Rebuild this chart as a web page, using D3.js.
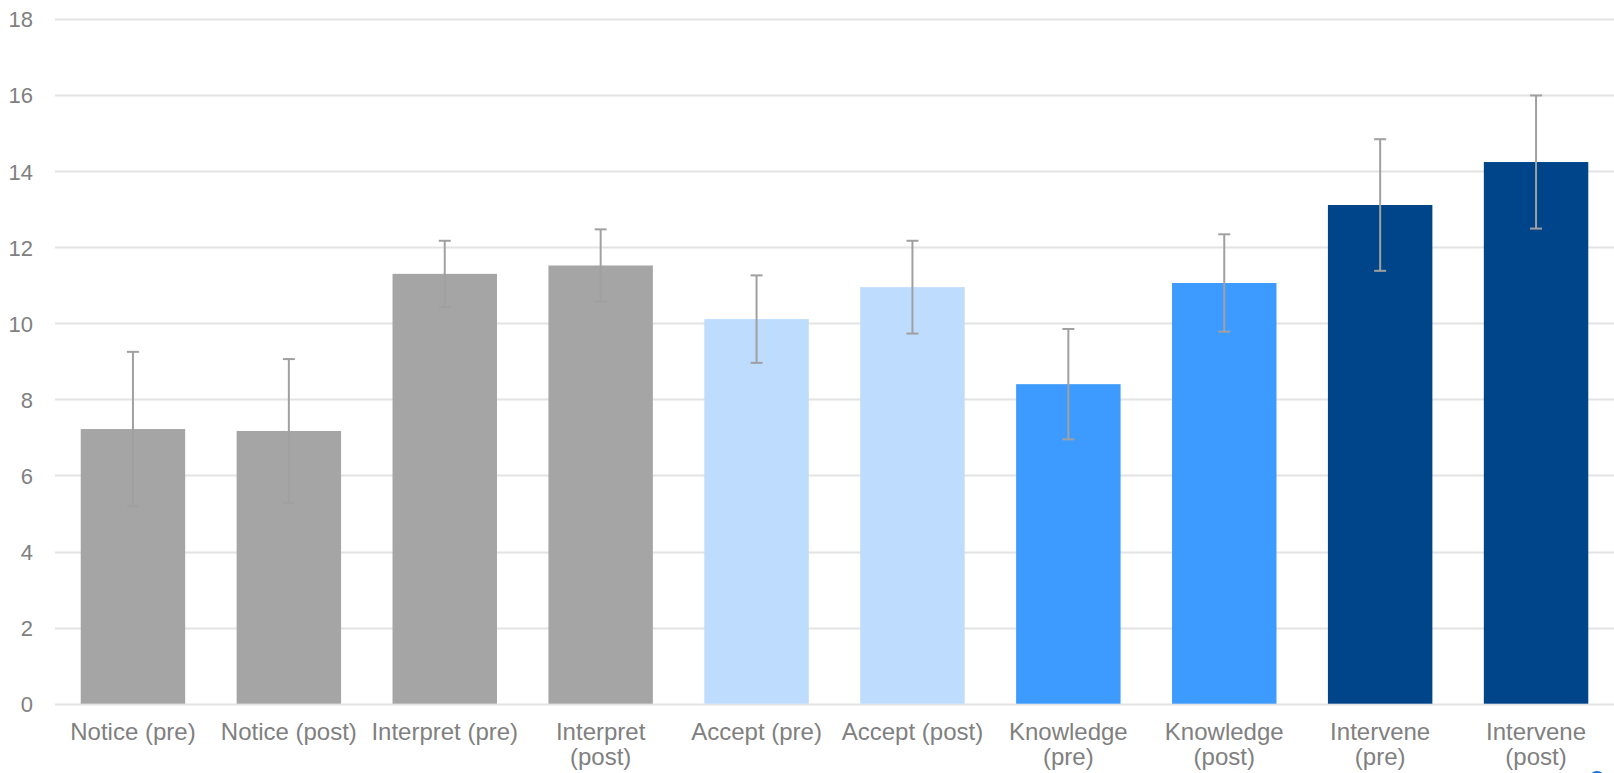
<!DOCTYPE html>
<html>
<head>
<meta charset="utf-8">
<script src="https://cdn.jsdelivr.net/npm/d3@7"></script>
<style>
  html, body { margin: 0; padding: 0; background: #fff; overflow: hidden; }
  svg { display: block; }
</style>
</head>
<body>
<svg id="chart" width="1614" height="773"></svg>
<script>
// Category labels (line-broken as displayed under each bar)
const categories = [
  ["Notice (pre)"], ["Notice (post)"],
  ["Interpret (pre)"], ["Interpret", "(post)"],
  ["Accept (pre)"], ["Accept (post)"],
  ["Knowledge", "(pre)"], ["Knowledge", "(post)"],
  ["Intervene", "(pre)"], ["Intervene", "(post)"]
];
// Mean scores
const means = [7.22, 7.17, 11.30, 11.52, 10.11, 10.95, 8.40, 11.06, 13.11, 14.24];
// Error bar half-widths
const errors = [2.03, 1.89, 0.87, 0.95, 1.15, 1.22, 1.45, 1.28, 1.73, 1.75];
// Fill per construct
const fills = ["#a5a5a5", "#a5a5a5", "#a5a5a5", "#a5a5a5",
               "#bddcfe", "#bddcfe", "#3d9bff", "#3d9bff",
               "#004489", "#004489"];
const yTicks = [0, 2, 4, 6, 8, 10, 12, 14, 16, 18];

const svg = d3.select("#chart");
const margin = { left: 55, right: 0, top: 19, bottom: 69 };
const W = 1614, H = 773;
const font = "Liberation Sans, Arial, sans-serif";

const x = d3.scaleBand()
  .domain(d3.range(categories.length))
  .range([margin.left, W - margin.right])
  .paddingInner(0.33)
  .paddingOuter(0.165);

const y = d3.scaleLinear()
  .domain([0, 18])
  .range([703.7, margin.top]);

// Gridlines
svg.append("g")
  .selectAll("line")
  .data(yTicks)
  .join("line")
  .attr("x1", margin.left)
  .attr("x2", W)
  .attr("y1", d => Math.round(y(d)) + 0.5)
  .attr("y2", d => Math.round(y(d)) + 0.5)
  .attr("stroke", "#e3e3e3")
  .attr("stroke-width", 2);

// Y axis labels
const yAxis = d3.axisLeft(y).tickValues(yTicks).tickSize(0).tickPadding(0);
const yg = svg.append("g")
  .attr("transform", "translate(33,0)")
  .call(yAxis);
yg.select(".domain").remove();
yg.selectAll("text")
  .attr("font-family", font)
  .attr("font-size", 22)
  .attr("fill", "#808080")
  .attr("dy", "0.36em");

// Bars
svg.append("g")
  .selectAll("rect")
  .data(means)
  .join("rect")
  .attr("x", (d, i) => x(i))
  .attr("width", x.bandwidth())
  .attr("y", d => y(d))
  .attr("height", d => y(0) - y(d))
  .attr("fill", (d, i) => fills[i]);

// Error bars
const eb = svg.append("g")
  .attr("stroke", "#a0a0a0")
  .attr("stroke-width", 2);
means.forEach((m, i) => {
  const cx = x(i) + x.bandwidth() / 2;
  const hi = y(m + errors[i]);
  const lo = y(m - errors[i]);
  eb.append("line").attr("x1", cx).attr("x2", cx).attr("y1", hi).attr("y2", lo);
  eb.append("line").attr("x1", cx - 6).attr("x2", cx + 6).attr("y1", hi).attr("y2", hi);
  eb.append("line").attr("x1", cx - 6).attr("x2", cx + 6).attr("y1", lo).attr("y2", lo);
});

// X axis labels
const xl = svg.append("g")
  .attr("font-family", font)
  .attr("font-size", 24)
  .attr("fill", "#808080")
  .attr("text-anchor", "middle");
categories.forEach((lines, i) => {
  const t = xl.append("text")
    .attr("x", x(i) + x.bandwidth() / 2)
    .attr("y", 740);
  lines.forEach((ln, k) => {
    t.append("tspan")
      .attr("x", x(i) + x.bandwidth() / 2)
      .attr("dy", k === 0 ? 0 : 25)
      .text(ln);
  });
});

// Small blue marker at the lower right corner
svg.append("circle")
  .attr("cx", 1597)
  .attr("cy", 779)
  .attr("r", 8)
  .attr("fill", "#1a6fd6");
</script>
</body>
</html>
